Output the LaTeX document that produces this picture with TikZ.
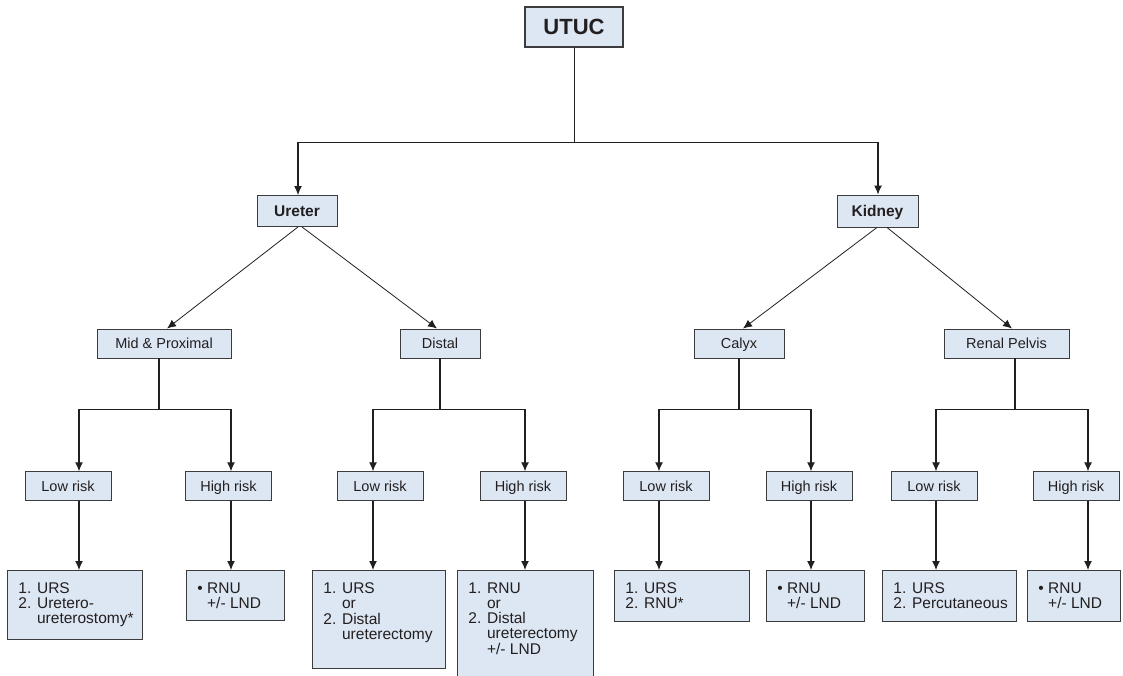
\documentclass[tikz,border=0pt]{standalone}
\usepackage{fontspec}
\setmainfont{Liberation Sans}
\usetikzlibrary{arrows.meta}

\definecolor{boxfill}{RGB}{220,231,243}
\definecolor{boxline}{RGB}{60,60,60}
\definecolor{ink}{RGB}{35,31,32}

%text of the treatment boxes: width, height, rows
\newcommand{\leaftext}[3]{\parbox[c][#2][t]{#1}{\vspace*{12pt}\hspace*{11pt}\begin{tabular}[t]{@{}l@{ }l@{}}#3\end{tabular}}}

\begin{document}
\begin{tikzpicture}[x=1pt, y=-1pt,
		box/.style={draw=boxline, fill=boxfill, line width=0.9pt, text=ink, inner sep=0pt, text height=10.4pt, text depth=0pt, font=\fontsize{14.5}{16}\selectfont},
		head/.style={box, text height=11.1pt, text depth=0pt, font=\fontsize{15.5}{18}\selectfont\bfseries},
		risk/.style={box, minimum width=86pt, minimum height=28.5pt},
		leaf/.style={box, anchor=north west, text height=, text depth=, font=\fontsize{15.5}{15}\selectfont},
		stem/.style={line width=1.1pt, draw=ink},
		arr/.style={stem, -{Latex[length=9pt, width=8pt]}}]
		
		%frame of the page
		\useasboundingbox (0,0) rectangle (1123,676);
		\clip (0,0) rectangle (1123,676);
		
		%top level
		\node [box, font=\fontsize{22}{24}\selectfont\bfseries, text height=15.8pt, text depth=0pt, minimum width=98pt, minimum height=40pt, line width=1.2pt] (utuc) at (574,27) {UTUC};
		\node [head, minimum width=80pt, minimum height=31pt] (ureter) at (297,211) {Ureter};
		\node [head, minimum width=81pt, minimum height=32pt] (kidney) at (877.5,211) {Kidney};
		
		\draw [stem, line width=0.8pt] (utuc.south) -- ++(0,95) coordinate (j0);
		\draw [arr] (j0) -| ([xshift=1pt]ureter.north);
		\draw [arr] (j0) -| ([xshift=0.5pt]kidney.north);
		
		%location
		\node [box, minimum width=134pt, minimum height=29pt] (midprox) at (164,343.5) {Mid \& Proximal};
		\node [box, minimum width=80pt, minimum height=29pt] (distal) at (440,343.5) {Distal};
		\node [box, minimum width=90pt, minimum height=29pt] (calyx) at (739,343.5) {Calyx};
		\node [box, minimum width=125pt, minimum height=29pt] (pelvis) at (1006.5,343.5) {Renal Pelvis};
		
		\draw [arr, line width=0.8pt] ([xshift=1pt]ureter.south) -- ([xshift=3pt]midprox.north);
		\draw [arr, line width=0.8pt] ([xshift=5pt]ureter.south) -- ([xshift=-3pt]distal.north);
		\draw [arr, line width=0.8pt] ([xshift=-0.5pt]kidney.south) -- ([xshift=4pt]calyx.north);
		\draw [arr, line width=0.8pt] ([xshift=9.5pt]kidney.south) -- ([xshift=5.5pt]pelvis.north);
		
		%risk groups
		\node [risk] (lowA) at (68,486) {Low risk};
		\node [risk] (highA) at (228.5,486) {High risk};
		\node [risk] (lowB) at (380,486) {Low risk};
		\node [risk] (highB) at (523,486) {High risk};
		\node [risk] (lowC) at (666,486) {Low risk};
		\node [risk] (highC) at (809,486) {High risk};
		\node [risk] (lowD) at (934,486) {Low risk};
		\node [risk] (highD) at (1076,486) {High risk};
		
		\draw [stem] ([xshift=-5pt]midprox.south) -- ++(0,51) coordinate (jA);
		\draw [arr] (jA) -| ([xshift=11pt]lowA.north);
		\draw [arr] (jA) -| ([xshift=2.5pt]highA.north);
		
		\draw [stem] (distal.south) -- ++(0,51) coordinate (jB);
		\draw [arr] (jB) -| ([xshift=-7pt]lowB.north);
		\draw [arr] (jB) -| ([xshift=2pt]highB.north);
		
		\draw [stem] (calyx.south) -- ++(0,51) coordinate (jC);
		\draw [arr] (jC) -| ([xshift=-7pt]lowC.north);
		\draw [arr] (jC) -| ([xshift=2pt]highC.north);
		
		\draw [stem] ([xshift=8.5pt]pelvis.south) -- ++(0,51) coordinate (jD);
		\draw [arr] (jD) -| ([xshift=2pt]lowD.north);
		\draw [arr] (jD) -| ([xshift=12pt]highD.north);
		
		%treatment
		\node [leaf] (leafA1) at (7,570) {\leaftext{135pt}{69pt}{1. & URS\\ 2. & Uretero-\\ & ureterostomy*}};
		\node [leaf] (leafA2) at (186,570) {\leaftext{98pt}{50pt}{\textbullet & RNU\\ & +/- LND}};
		\node [leaf] (leafB1) at (312,570) {\leaftext{133pt}{98pt}{1. & URS\\ & or\\ 2. & Distal\\ & ureterectomy}};
		\node [leaf] (leafB2) at (457,570) {\leaftext{136pt}{118pt}{1. & RNU\\ & or\\ 2. & Distal\\ & ureterectomy\\ & +/- LND}};
		\node [leaf] (leafC1) at (614,570) {\leaftext{135pt}{51pt}{1. & URS\\ 2. & RNU*}};
		\node [leaf] (leafC2) at (766,570) {\leaftext{98pt}{51pt}{\textbullet & RNU\\ & +/- LND}};
		\node [leaf] (leafD1) at (882,570) {\leaftext{134pt}{51pt}{1. & URS\\ 2. & Percutaneous}};
		\node [leaf] (leafD2) at (1027,570) {\leaftext{93pt}{51pt}{\textbullet & RNU\\ & +/- LND}};
		
		\draw [arr] ([xshift=11pt]lowA.south) -- ([xshift=11pt]lowA.south |- leafA1.north);
		\draw [arr] ([xshift=2.5pt]highA.south) -- ([xshift=2.5pt]highA.south |- leafA2.north);
		\draw [arr] ([xshift=-7pt]lowB.south) -- ([xshift=-7pt]lowB.south |- leafB1.north);
		\draw [arr] ([xshift=2pt]highB.south) -- ([xshift=2pt]highB.south |- leafB2.north);
		\draw [arr] ([xshift=-7pt]lowC.south) -- ([xshift=-7pt]lowC.south |- leafC1.north);
		\draw [arr] ([xshift=2pt]highC.south) -- ([xshift=2pt]highC.south |- leafC2.north);
		\draw [arr] ([xshift=2pt]lowD.south) -- ([xshift=2pt]lowD.south |- leafD1.north);
		\draw [arr] ([xshift=12pt]highD.south) -- ([xshift=12pt]highD.south |- leafD2.north);
	\end{tikzpicture}
\end{document}
